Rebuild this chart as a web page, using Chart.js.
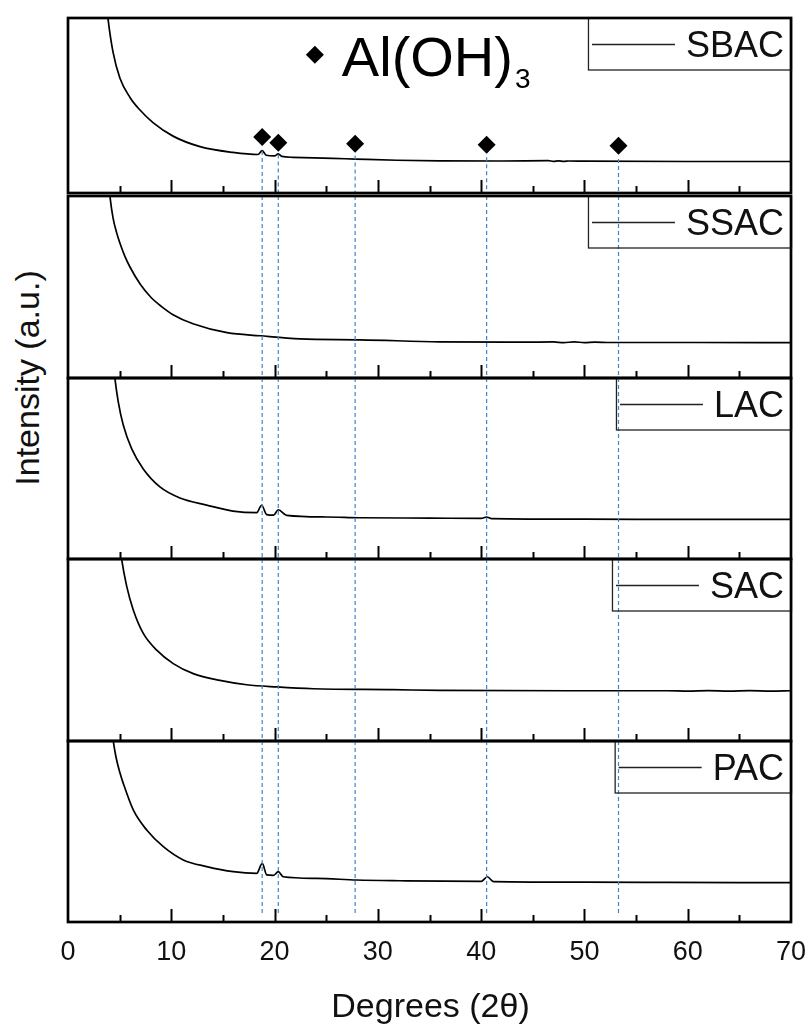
<!DOCTYPE html>
<html>
<head>
<meta charset="utf-8">
<title>XRD patterns</title>
<script src="https://cdn.jsdelivr.net/npm/chart.js@4.4.1/dist/chart.umd.min.js"></script>
<style>
  body { margin: 0; background: #fff; }
  #wrap { position: relative; width: 812px; height: 1025px; overflow: hidden; background: #fff; }
  #wrap canvas { position: absolute; left: 0; }
  #yTitle {
    position: absolute; left: 27px; top: 378px;
    transform: translate(-50%, -50%) rotate(-90deg);
    font: 34px "Liberation Sans", Arial, sans-serif; color: #111; white-space: nowrap;
  }
</style>
</head>
<body>
<div id="wrap">
  <div id="yTitle">Intensity (a.u.)</div>
</div>
<script>
// ===============================
// Diffraction data (2θ in degrees, intensity in panel units 0-100)
// ===============================
const sampleNames = ["SBAC", "SSAC", "LAC", "SAC", "PAC"];

const sbacX = [3.5, 3.87, 4.36, 5.03, 6.0, 6.97, 8.23, 10.17, 12.78, 15.97, 18.4, 18.8, 19.2, 20.0, 20.36, 20.7, 21.78, 25.65, 27.8, 31.85, 36, 42, 46.5, 47, 47.5, 48, 48.5, 50, 60, 70];
const sbacY = [122, 99.8, 80.5, 65.6, 54.6, 47.4, 40.2, 32.5, 26.5, 23.2, 22.0, 24.2, 21.6, 21.2, 22.4, 20.9, 20.4, 19.8, 19.4, 18.7, 18.4, 18.3, 18.5, 18.1, 18.4, 18.1, 18.3, 18.2, 18.0, 18.0];

const ssacX = [3.7, 4.07, 4.36, 4.7, 5.03, 5.5, 6.0, 7.0, 8.0, 9.0, 10.17, 12.1, 15.4, 18.6, 22.46, 28.3, 36.0, 44, 47, 48, 49, 50, 51, 52.5, 60, 70];
const ssacY = [122, 99.4, 88, 80, 74, 67, 61, 51.5, 44.5, 39.5, 34.8, 29.8, 24.9, 23.2, 21.5, 21.0, 19.9, 19.7, 19.8, 19.4, 19.9, 19.4, 19.7, 19.5, 19.5, 19.4];

const lacX = [4.2, 4.55, 4.87, 5.35, 6.17, 7.29, 8.9, 10.84, 13.43, 15.97, 18.27, 18.75, 19.24, 19.9, 20.36, 21.17, 25.04, 28.27, 35.05, 40.0, 40.53, 41, 50, 60, 70];
const lacY = [118, 99.4, 86.7, 74, 60.8, 49.7, 39.8, 33.7, 29.8, 26.5, 25.6, 29.7, 24.5, 24.2, 27.2, 24.1, 23.2, 22.8, 22.6, 22.4, 23.2, 22.3, 22.0, 21.9, 21.9];

const sacX = [4.8, 5.2, 5.68, 6.32, 7.29, 8.59, 10.19, 12.13, 14.71, 17.3, 20.2, 23.75, 31.46, 36, 50, 58, 60, 62, 64, 66, 68, 70];
const sacY = [118, 99.6, 85.1, 72, 59.1, 49.9, 42.5, 37, 33.3, 30.9, 29.7, 28.7, 28.2, 27.8, 27.6, 27.6, 27.4, 27.7, 27.4, 27.7, 27.4, 27.6];

const pacX = [4.1, 4.39, 4.65, 5.0, 5.35, 6.32, 7.62, 9.23, 11.16, 13.43, 16.0, 18.27, 18.81, 19.24, 19.9, 20.36, 20.84, 24.08, 27.95, 32.14, 40.0, 40.6, 41.2, 50, 58, 70];
const pacY = [112, 99.6, 91, 83, 76.6, 61.9, 50.8, 41.6, 34.3, 30.6, 27.8, 26.9, 32.4, 26.0, 25.8, 27.8, 25.0, 24.1, 23.2, 22.8, 22.4, 25.0, 22.3, 22.0, 21.9, 21.7];

const seriesX = [sbacX, ssacX, lacX, sacX, pacX];
const seriesY = [sbacY, ssacY, lacY, sacY, pacY];

// Al(OH)3 reflections
const peakPositions = [18.8, 20.36, 27.8, 40.53, 53.3];
const peakMarkY = [32, 28.7, 28.1, 27.6, 27.0];
const peakLineTop = [24, 22, 21.5, 20.5, 19.5];

// x-axis ticks
const majorTicks = [10, 20, 30, 40, 50, 60];
const minorTicks = [5, 15, 25, 35, 45, 55, 65];
const tickLabels = [0, 10, 20, 30, 40, 50, 60, 70];

// ===============================
// Layout
// ===============================
const panelTops = [15, 196, 378, 559, 741];
const plotBottom = 922;
const plotLeft = 68;
const plotRight = 791;
const FONT = '"Liberation Sans", Arial, sans-serif';
const dashColor = "#3f86c8";

// frame, ticks, legend box and text for each panel
const panelDeco = {
    id: "panelDeco",
    afterDraw(chart, args, opts) {
        const ctx = chart.ctx;
        const area = chart.chartArea;
        const xs = chart.scales.x;
        const ys = chart.scales.y;
        ctx.save();

        // inward ticks on the bottom edge
        ctx.strokeStyle = "#000";
        ctx.lineWidth = 2;
        majorTicks.concat(minorTicks).forEach(v => {
            const px = Math.round(xs.getPixelForValue(v)) + 0.5;
            const len = majorTicks.includes(v) ? 13 : 7;
            ctx.beginPath();
            ctx.moveTo(px, area.bottom);
            ctx.lineTo(px, area.bottom - len);
            ctx.stroke();
        });

        // legend box in the top-right corner
        ctx.font = "36px " + FONT;
        const textW = ctx.measureText(opts.name).width;
        const textRight = area.right - 7;
        const lineEnd = textRight - textW - 11;
        const lineStart = lineEnd - 83;
        const boxLeft = lineStart - 4;
        const boxH = 52;
        ctx.lineWidth = 1.3;
        ctx.strokeStyle = "#222";
        ctx.strokeRect(boxLeft + 0.5, area.top, area.right - boxLeft, boxH);
        ctx.beginPath();
        ctx.lineWidth = 1.3;
        ctx.moveTo(lineStart, area.top + 26.5);
        ctx.lineTo(lineEnd, area.top + 26.5);
        ctx.stroke();
        ctx.fillStyle = "#111";
        ctx.textAlign = "right";
        ctx.textBaseline = "alphabetic";
        ctx.fillText(opts.name, textRight, area.top + 38.5);

        // Al(OH)3 key in the top panel
        if (opts.index === 0) {
            const kx = xs.getPixelForValue(23.9);
            const ky = ys.getPixelForValue(79);
            ctx.fillStyle = "#000";
            ctx.beginPath();
            ctx.moveTo(kx - 9, ky);
            ctx.lineTo(kx, ky - 9);
            ctx.lineTo(kx + 9, ky);
            ctx.lineTo(kx, ky + 9);
            ctx.closePath();
            ctx.fill();
            ctx.textAlign = "left";
            ctx.font = "56px " + FONT;
            const base = "Al(OH)";
            ctx.fillText(base, kx + 27, area.top + 58);
            const w = ctx.measureText(base).width;
            ctx.font = "28px " + FONT;
            ctx.fillText("3", kx + 27 + w + 2, area.top + 70);
        }

        // shared x-axis labels under the bottom panel
        if (opts.index === 4) {
            ctx.fillStyle = "#111";
            ctx.textAlign = "center";
            ctx.font = "27px " + FONT;
            tickLabels.forEach(v => {
                ctx.fillText(String(v), xs.getPixelForValue(v), area.bottom + 38);
            });
            ctx.font = "34px " + FONT;
            ctx.fillText("Degrees (2\u03b8)", (area.left + area.right) / 2 + 1, area.bottom + 95);
        }

        // panel frame
        ctx.lineWidth = 2.7;
        ctx.strokeStyle = "#000";
        ctx.strokeRect(area.left, area.top, area.right - area.left, area.bottom - area.top);
        ctx.restore();
    }
};

// ===============================
// Build one chart per sample
// ===============================
function makePanel(i) {
    const top = panelTops[i];
    const bottom = i < 4 ? panelTops[i + 1] : plotBottom;
    const pad = 6;
    const extra = i === 4 ? 100 : 0;

    const canvas = document.createElement("canvas");
    canvas.width = 812;
    canvas.height = bottom - top + 2 * pad + extra;
    canvas.style.top = (top - pad) + "px";
    document.getElementById("wrap").appendChild(canvas);

    const datasets = [];

    // dashed guide lines at the Al(OH)3 reflections
    peakPositions.forEach((p, k) => {
        const yTop = i === 0 ? peakLineTop[k] : 100;
        const yBottom = i === 4 ? 4 : 0;
        datasets.push({
            data: [{ x: p, y: yTop }, { x: p, y: yBottom }],
            borderColor: dashColor,
            borderWidth: 1.2,
            borderDash: [4, 3],
            pointRadius: 0
        });
    });

    // diffraction pattern
    datasets.push({
        label: sampleNames[i],
        data: seriesX[i].map((x, k) => ({ x: x, y: seriesY[i][k] })),
        borderColor: "#000",
        borderWidth: 1.7,
        pointRadius: 0,
        cubicInterpolationMode: "monotone"
    });

    // peak markers in the top panel
    if (i === 0) {
        datasets.push({
            data: peakPositions.map((p, k) => ({ x: p, y: peakMarkY[k] })),
            showLine: false,
            pointStyle: "rectRot",
            pointRadius: 9,
            backgroundColor: "#000",
            borderColor: "#000",
            borderWidth: 0
        });
    }

    return new Chart(canvas, {
        type: "line",
        data: { datasets: datasets },
        options: {
            responsive: false,
            animation: false,
            events: [],
            layout: { padding: { left: plotLeft, right: 812 - plotRight, top: pad, bottom: pad + extra } },
            scales: {
                x: { type: "linear", min: 0, max: 70, display: false },
                y: { type: "linear", min: 0, max: 100, display: false }
            },
            plugins: {
                legend: { display: false },
                tooltip: { enabled: false },
                panelDeco: { name: sampleNames[i], index: i }
            }
        },
        plugins: [panelDeco]
    });
}

if (typeof Chart !== "undefined") {
    sampleNames.forEach((name, i) => makePanel(i));
}
</script>
</body>
</html>
